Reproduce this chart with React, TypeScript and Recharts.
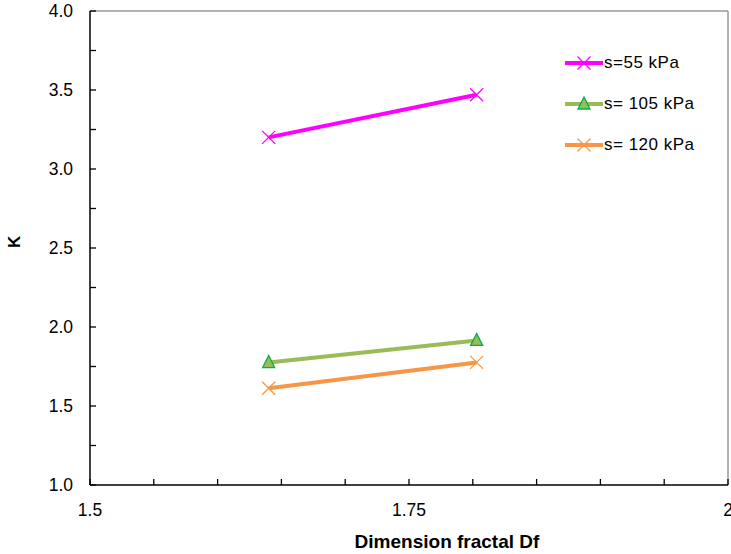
import React from 'react';
import { LineChart, Line, XAxis, YAxis, ReferenceLine, Label } from 'recharts';

const dfValues = [1.64, 1.803];
const s55 = [3.2, 3.47];
const s105 = [1.775, 1.915];
const s120 = [1.612, 1.776];

const xTicks = [1.5, 1.55, 1.6, 1.65, 1.7, 1.75, 1.8, 1.85, 1.9, 1.95, 2];
const xLabels: Record<string, string> = { '1.5': '1.5', '1.75': '1.75', '2': '2' };
const yTicks = [1, 1.25, 1.5, 1.75, 2, 2.25, 2.5, 2.75, 3, 3.25, 3.5, 3.75, 4];
const yLabels: Record<string, string> = { '1': '1.0', '1.5': '1.5', '2': '2.0', '2.5': '2.5', '3': '3.0', '3.5': '3.5', '4': '4.0' };

const seriesNames = ['s=55 kPa', 's= 105 kPa', 's= 120 kPa'];
const seriesColors = ['#FF00FF', '#9BBB59', '#F79646'];

const data = dfValues.map((d, i) => ({ df: d, a: s55[i], b: s105[i], c: s120[i] }));

const FONT = 'Liberation Sans, Arial, sans-serif';

const XTick = (props: any) => {
  const { x, y, payload } = props;
  const lbl = xLabels[String(Math.round(payload.value * 1000) / 1000)];
  return (
    <g>
      <line x1={x} y1={y} x2={x} y2={y - 6} stroke="#000" strokeWidth={1.3} />
      {lbl && (
        <text x={x} y={y + 31} textAnchor="middle" fontSize={17.5} fontFamily={FONT} fill="#000">{lbl}</text>
      )}
    </g>
  );
};

const YTick = (props: any) => {
  const { x, y, payload } = props;
  const lbl = yLabels[String(Math.round(payload.value * 1000) / 1000)];
  return (
    <g>
      <line x1={x} y1={y} x2={x + 6} y2={y} stroke="#000" strokeWidth={1.3} />
      {lbl && (
        <text x={x - 17} y={y + 6} textAnchor="end" fontSize={17.5} fontFamily={FONT} fill="#000">{lbl}</text>
      )}
    </g>
  );
};

const Cross = (props: any) => {
  const { cx, cy, stroke } = props;
  if (cx == null || cy == null) return null;
  const r = 6.5;
  return (
    <g>
      <line x1={cx - r} y1={cy - r} x2={cx + r} y2={cy + r} stroke={stroke} strokeWidth={1.3} />
      <line x1={cx - r} y1={cy + r} x2={cx + r} y2={cy - r} stroke={stroke} strokeWidth={1.3} />
    </g>
  );
};

const Tri = (props: any) => {
  const { cx, cy } = props;
  if (cx == null || cy == null) return null;
  const r = 6;
  return (
    <polygon
      points={`${cx},${cy - r - 1} ${cx - r},${cy + r - 1} ${cx + r},${cy + r - 1}`}
      fill="#9BBB59"
      stroke="#00B050"
      strokeWidth={1.3}
    />
  );
};

const markerFor = (i: number, cx: number, cy: number) =>
  i === 1 ? <Tri cx={cx} cy={cy} /> : <Cross cx={cx} cy={cy} stroke={seriesColors[i]} />;

const LegendBox = () => (
  <div style={{ position: 'absolute', left: 565, top: 42, width: 160, fontFamily: FONT }}>
    {seriesNames.map((n, i) => (
      <div key={n} style={{ display: 'flex', alignItems: 'center', height: 41 }}>
        <svg width={38} height={16} style={{ display: 'block' }}>
          <line x1={0} y1={8} x2={38} y2={8} stroke={seriesColors[i]} strokeWidth={4} />
          {markerFor(i, 19, 8)}
        </svg>
        <span style={{ fontSize: 17, letterSpacing: 0.5, marginLeft: 1, color: '#000' }}>{n}</span>
      </div>
    ))}
  </div>
);

export default function App() {
  return (
    <div style={{ position: 'absolute', left: 0, top: 0, width: 731, height: 554, background: '#fff' }}>
      <LineChart width={731} height={554} data={data} margin={{ top: 11, right: 3, bottom: 0, left: 0 }}>
        <XAxis
          dataKey="df"
          type="number"
          domain={[1.5, 2]}
          ticks={xTicks}
          interval={0}
          tick={<XTick />}
          tickSize={0}
          tickMargin={0}
          tickLine={false}
          height={69}
          axisLine={{ stroke: '#000', strokeWidth: 1.5 }}
          allowDataOverflow
        >
          <Label value="Dimension fractal Df" position="insideBottom" offset={6} dx={38} fontSize={19} fontWeight="bold" fontFamily={FONT} fill="#000" />
        </XAxis>
        <YAxis
          type="number"
          domain={[1, 4]}
          ticks={yTicks}
          interval={0}
          tick={<YTick />}
          tickSize={0}
          tickMargin={0}
          tickLine={false}
          width={90}
          axisLine={{ stroke: '#000', strokeWidth: 1.5 }}
          allowDataOverflow
        >
          <Label value="K" angle={-90} position="insideLeft" offset={14} fontSize={17} fontWeight="bold" fontFamily={FONT} fill="#000" />
        </YAxis>
        <ReferenceLine y={4} stroke="#999" strokeWidth={1.5} />
        <ReferenceLine x={2} stroke="#999" strokeWidth={1.5} />
        <Line dataKey="a" name={seriesNames[0]} stroke={seriesColors[0]} strokeWidth={4} isAnimationActive={false}
          dot={<Cross stroke={seriesColors[0]} />} activeDot={false} />
        <Line dataKey="b" name={seriesNames[1]} stroke={seriesColors[1]} strokeWidth={4} isAnimationActive={false}
          dot={<Tri />} activeDot={false} />
        <Line dataKey="c" name={seriesNames[2]} stroke={seriesColors[2]} strokeWidth={4} isAnimationActive={false}
          dot={<Cross stroke={seriesColors[2]} />} activeDot={false} />
      </LineChart>
      <LegendBox />
    </div>
  );
}
